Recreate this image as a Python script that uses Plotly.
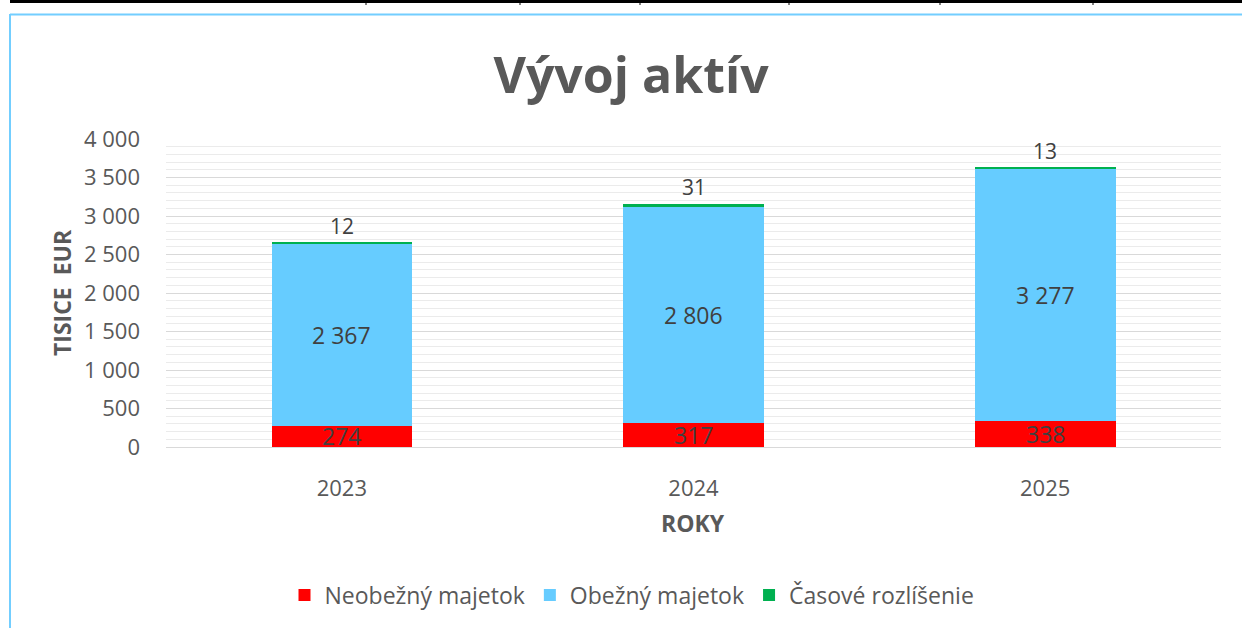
import plotly.graph_objects as go

years = ["2023", "2024", "2025"]
neobezny = [274, 317, 338]
obezny = [2367, 2806, 3277]
casove = [12, 31, 13]
series_names = ["Neobežný majetok", "Obežný majetok", "Časové rozlíšenie"]
colors = ["#FF0000", "#66CCFF", "#00B050"]
y_ticks = [0, 500, 1000, 1500, 2000, 2500, 3000, 3500, 4000]
y_tick_text = ["0", "500", "1 000", "1 500", "2 000", "2 500", "3 000", "3 500", "4 000"]

W, H = 1242, 628
FONT = "Open Sans"
GRAY = "#595959"

def fmt(v):
    return f"{v:,}".replace(",", " ")

fig = go.Figure()
for name, vals, col in zip(series_names, [neobezny, obezny, casove], colors):
    fig.add_trace(go.Bar(x=years, y=vals, name=name, marker=dict(color=col, line=dict(width=0)),
                         hoverinfo="x+y+name"))

# data labels (category axis: annotation x uses category index)
for i, yr in enumerate(years):
    base = 0
    for vals in [neobezny, obezny]:
        fig.add_annotation(x=i, y=base + vals[i] / 2, text=fmt(vals[i]), showarrow=False,
                           xref="x", yref="y", xanchor="center", yanchor="middle",
                           font=dict(size=23, color="#404040", family=FONT))
        base += vals[i]
    base += casove[i]
    fig.add_annotation(x=i, y=base, text=fmt(casove[i]), showarrow=False, yshift=17,
                       xref="x", yref="y", xanchor="center", yanchor="middle",
                       font=dict(size=21, color="#404040", family=FONT))

x0, x1 = 166 / W, 1221 / W
y0, y1 = 1 - 447 / H, 1 - 139 / H

fig.update_layout(
    width=W, height=H, autosize=False,
    margin=dict(l=0, r=0, t=0, b=0, pad=0, autoexpand=False),
    paper_bgcolor="white", plot_bgcolor="white",
    barmode="stack", bargap=0.6,
    font=dict(family=FONT, color=GRAY),
    title=dict(text="<b>Vývoj aktív</b>", x=631 / W, xanchor="center", y=1 - 75 / H, yanchor="middle",
               font=dict(size=50, color=GRAY, family=FONT)),
    xaxis=dict(domain=[x0, x1], type="category", range=[-0.5, 2.5], automargin=False,
               showgrid=False, showline=True, linecolor="#D9D9D9",
               linewidth=1, ticks="", tickfont=dict(size=22, color=GRAY), ticklabelstandoff=22),
    yaxis=dict(domain=[y0, y1], range=[0, 4000], tickvals=y_ticks, ticktext=y_tick_text, automargin=False,
               showgrid=True, gridcolor="#D9D9D9", gridwidth=1, zeroline=False, showline=False,
               ticks="", tickfont=dict(size=22, color=GRAY), ticklabelstandoff=25,
               minor=dict(dtick=100, showgrid=True, gridcolor="#EBEBEB", gridwidth=1)),
    legend=dict(orientation="h", x=632 / W, xanchor="center", y=1 - 595 / H, yanchor="middle",
                font=dict(size=23, color=GRAY, family=FONT), itemwidth=30, traceorder="normal"),
    showlegend=True,
)

# axis titles
fig.add_annotation(x=62 / W, y=1 - 293 / H, xref="paper", yref="paper", text="<b>TISICE  EUR</b>",
                   textangle=-90, showarrow=False, xanchor="center", yanchor="middle",
                   font=dict(size=23, color=GRAY, family=FONT))
fig.add_annotation(x=693 / W, y=1 - 523 / H, xref="paper", yref="paper", text="<b>ROKY</b>",
                   showarrow=False, xanchor="center", yanchor="middle",
                   font=dict(size=23, color=GRAY, family=FONT))

# frame decorations
fig.add_shape(type="line", xref="paper", yref="paper", x0=10 / W, x1=1, y0=1 - 1.5 / H, y1=1 - 1.5 / H,
              line=dict(color="black", width=3))
for tx in [366, 520, 640, 789, 940, 1093]:
    fig.add_shape(type="line", xref="paper", yref="paper", x0=tx / W, x1=tx / W, y0=1, y1=1 - 5 / H,
                  line=dict(color="black", width=1))
fig.add_shape(type="line", xref="paper", yref="paper", x0=10 / W, x1=1, y0=1 - 14.5 / H, y1=1 - 14.5 / H,
              line=dict(color="#73CEFF", width=2))
fig.add_shape(type="line", xref="paper", yref="paper", x0=10 / W, x1=10 / W, y0=1 - 14 / H, y1=0,
              line=dict(color="#73CEFF", width=2))

fig.write_html("out.html", config={"displayModeBar": False},
               post_script="document.body.style.margin='0';document.body.style.overflow='hidden';")
